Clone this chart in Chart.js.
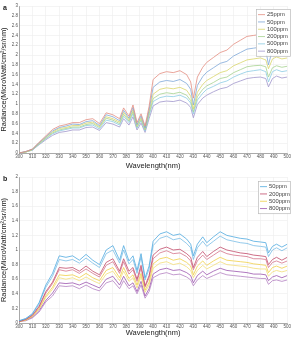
<!DOCTYPE html>
<html>
<head>
<meta charset="utf-8">
<script src="https://cdn.jsdelivr.net/npm/chart.js@4.4.0/dist/chart.umd.min.js"></script>
<style>
  body { margin: 0; background: #fff; width: 292px; height: 337px; position: relative; overflow: hidden; font-family: "Liberation Sans", Arial, sans-serif; }
  .panel { position: absolute; left: 0; width: 292px; }
  .tag { position: absolute; left: 3px; font-size: 7px; font-weight: bold; color: #222; }
</style>
</head>
<body>
<div class="panel" style="top:0;height:170px"><canvas id="chartA"></canvas></div>
<div class="panel" style="top:170px;height:167px"><canvas id="chartB"></canvas></div>
<div class="tag" style="top:4px">a</div>
<div class="tag" style="top:175px">b</div>
<script>
// ********
// * Data *
// ********

const wavelengths = [300, 305, 310, 315, 320, 325, 330, 335, 340, 345,
    350, 355, 360, 365, 370, 375, 378, 382, 385, 388,
    391, 394, 397, 400, 405, 410, 415, 420, 425, 428,
    430, 433, 437, 440, 445, 450, 455, 460, 465, 470,
    475, 480, 484, 486, 489, 492, 496, 500];

// panel a
const labelsA = ['25ppm', '50ppm', '100ppm', '200ppm', '500ppm', '800ppm'];
const a25 = [0.00, 0.03, 0.08, 0.22, 0.35, 0.48, 0.55, 0.58, 0.62, 0.62,
    0.68, 0.70, 0.60, 0.82, 0.78, 0.70, 0.92, 0.75, 0.98, 0.62,
    0.80, 0.55, 0.95, 1.50, 1.62, 1.66, 1.64, 1.68, 1.60, 1.45,
    1.12, 1.55, 1.75, 1.85, 1.95, 2.05, 2.10, 2.22, 2.30, 2.38,
    2.40, 2.42, 2.38, 2.15, 2.40, 2.45, 2.40, 2.42];
const a50 = [0.00, 0.03, 0.08, 0.21, 0.33, 0.45, 0.52, 0.55, 0.59, 0.58,
    0.64, 0.66, 0.56, 0.78, 0.74, 0.66, 0.87, 0.71, 0.93, 0.58,
    0.76, 0.51, 0.88, 1.34, 1.45, 1.48, 1.46, 1.50, 1.42, 1.30,
    0.98, 1.38, 1.56, 1.65, 1.74, 1.83, 1.87, 1.98, 2.05, 2.12,
    2.14, 2.16, 2.10, 1.80, 2.12, 2.18, 2.13, 2.16];
const a100 = [0.00, 0.02, 0.07, 0.20, 0.32, 0.43, 0.50, 0.52, 0.56, 0.56,
    0.61, 0.63, 0.54, 0.74, 0.70, 0.63, 0.83, 0.68, 0.88, 0.56,
    0.72, 0.50, 0.84, 1.20, 1.30, 1.33, 1.31, 1.34, 1.28, 1.16,
    0.90, 1.24, 1.40, 1.48, 1.56, 1.64, 1.68, 1.78, 1.84, 1.90,
    1.92, 1.94, 1.90, 1.72, 1.92, 1.96, 1.92, 1.94];
const a200 = [0.00, 0.02, 0.07, 0.19, 0.30, 0.41, 0.47, 0.50, 0.53, 0.53,
    0.58, 0.60, 0.52, 0.71, 0.67, 0.60, 0.79, 0.65, 0.84, 0.53,
    0.69, 0.47, 0.80, 1.11, 1.20, 1.23, 1.21, 1.24, 1.18, 1.07,
    0.84, 1.15, 1.30, 1.37, 1.44, 1.52, 1.55, 1.64, 1.70, 1.76,
    1.78, 1.79, 1.76, 1.55, 1.74, 1.78, 1.75, 1.77];
const a500 = [0.00, 0.02, 0.06, 0.18, 0.29, 0.39, 0.45, 0.48, 0.51, 0.51,
    0.56, 0.57, 0.49, 0.67, 0.64, 0.57, 0.75, 0.62, 0.80, 0.51,
    0.66, 0.45, 0.76, 1.05, 1.13, 1.16, 1.15, 1.18, 1.12, 1.02,
    0.80, 1.08, 1.22, 1.30, 1.36, 1.43, 1.47, 1.55, 1.61, 1.66,
    1.68, 1.70, 1.66, 1.45, 1.66, 1.70, 1.66, 1.68];
const a800 = [0.00, 0.02, 0.06, 0.17, 0.27, 0.36, 0.42, 0.44, 0.47, 0.47,
    0.52, 0.53, 0.46, 0.62, 0.59, 0.53, 0.70, 0.57, 0.74, 0.47,
    0.61, 0.42, 0.70, 0.96, 1.04, 1.06, 1.05, 1.08, 1.02, 0.93,
    0.72, 0.99, 1.12, 1.18, 1.25, 1.31, 1.34, 1.42, 1.47, 1.52,
    1.54, 1.55, 1.52, 1.35, 1.52, 1.57, 1.53, 1.55];

// panel b (two runs per concentration)
const labelsB = ['50ppm', '200ppm', '500ppm', '800ppm'];
const b50 = [0.03, 0.06, 0.13, 0.28, 0.52, 0.68, 0.92, 0.90, 0.92, 0.86,
    0.94, 0.86, 0.80, 1.00, 1.06, 0.86, 1.06, 0.85, 0.92, 0.72,
    0.95, 0.62, 0.78, 1.12, 1.22, 1.25, 1.20, 1.22, 1.15, 1.08,
    0.92, 1.08, 1.18, 1.10, 1.18, 1.25, 1.20, 1.18, 1.16, 1.15,
    1.12, 1.11, 1.10, 0.96, 1.05, 1.08, 1.04, 1.08];
const b50b = [0.03, 0.06, 0.12, 0.26, 0.49, 0.64, 0.87, 0.85, 0.87, 0.82,
    0.89, 0.82, 0.76, 0.95, 1.00, 0.82, 1.00, 0.81, 0.87, 0.68,
    0.90, 0.59, 0.74, 1.06, 1.16, 1.19, 1.14, 1.16, 1.09, 1.03,
    0.87, 1.03, 1.12, 1.05, 1.12, 1.19, 1.14, 1.12, 1.10, 1.09,
    1.06, 1.05, 1.04, 0.91, 1.00, 1.03, 0.99, 1.03];
const b200 = [0.02, 0.05, 0.11, 0.23, 0.43, 0.56, 0.76, 0.75, 0.76, 0.71,
    0.78, 0.71, 0.66, 0.83, 0.88, 0.71, 0.88, 0.71, 0.76, 0.60,
    0.79, 0.51, 0.65, 0.93, 1.01, 1.04, 1.00, 1.01, 0.95, 0.90,
    0.76, 0.90, 0.98, 0.91, 0.98, 1.04, 1.00, 0.98, 0.96, 0.95,
    0.93, 0.92, 0.91, 0.80, 0.87, 0.90, 0.86, 0.90];
const b200b = [0.02, 0.05, 0.10, 0.22, 0.41, 0.54, 0.73, 0.71, 0.73, 0.68,
    0.74, 0.68, 0.63, 0.79, 0.84, 0.68, 0.84, 0.67, 0.73, 0.57,
    0.75, 0.49, 0.62, 0.88, 0.96, 0.99, 0.95, 0.96, 0.91, 0.85,
    0.73, 0.85, 0.93, 0.87, 0.93, 0.99, 0.95, 0.93, 0.92, 0.91,
    0.88, 0.88, 0.87, 0.76, 0.83, 0.85, 0.82, 0.85];
const b500 = [0.02, 0.04, 0.09, 0.20, 0.37, 0.49, 0.66, 0.65, 0.66, 0.62,
    0.68, 0.62, 0.58, 0.72, 0.76, 0.62, 0.76, 0.61, 0.66, 0.52,
    0.68, 0.45, 0.56, 0.81, 0.88, 0.90, 0.86, 0.88, 0.83, 0.78,
    0.66, 0.78, 0.85, 0.79, 0.85, 0.90, 0.86, 0.85, 0.84, 0.83,
    0.81, 0.80, 0.79, 0.69, 0.76, 0.78, 0.75, 0.78];
const b500b = [0.02, 0.04, 0.09, 0.19, 0.35, 0.46, 0.62, 0.60, 0.62, 0.58,
    0.63, 0.58, 0.54, 0.67, 0.71, 0.58, 0.71, 0.57, 0.62, 0.48,
    0.64, 0.42, 0.52, 0.75, 0.82, 0.84, 0.80, 0.82, 0.77, 0.72,
    0.62, 0.72, 0.79, 0.74, 0.79, 0.84, 0.80, 0.79, 0.78, 0.77,
    0.75, 0.74, 0.74, 0.64, 0.70, 0.72, 0.70, 0.72];
const b800 = [0.02, 0.04, 0.08, 0.17, 0.31, 0.41, 0.55, 0.54, 0.55, 0.52,
    0.56, 0.52, 0.48, 0.60, 0.64, 0.52, 0.64, 0.51, 0.55, 0.43,
    0.57, 0.37, 0.47, 0.67, 0.73, 0.75, 0.72, 0.73, 0.69, 0.65,
    0.55, 0.65, 0.71, 0.66, 0.71, 0.75, 0.72, 0.71, 0.70, 0.69,
    0.67, 0.67, 0.66, 0.58, 0.63, 0.65, 0.62, 0.65];
const b800b = [0.02, 0.03, 0.07, 0.15, 0.29, 0.37, 0.51, 0.50, 0.51, 0.47,
    0.52, 0.47, 0.44, 0.55, 0.58, 0.47, 0.58, 0.47, 0.51, 0.40,
    0.52, 0.34, 0.43, 0.62, 0.67, 0.69, 0.66, 0.67, 0.63, 0.59,
    0.51, 0.59, 0.65, 0.61, 0.65, 0.69, 0.66, 0.65, 0.64, 0.63,
    0.62, 0.61, 0.61, 0.53, 0.58, 0.59, 0.57, 0.59];

// **********
// * Charts *
// **********

Chart.defaults.font.family = '"Liberation Sans", Arial, sans-serif';
Chart.defaults.animation = false;

function line(label, values, color, width) {
    return {
        label: label,
        data: values.map((v, i) => ({ x: wavelengths[i], y: v })),
        borderColor: color,
        backgroundColor: color,
        borderWidth: width,
        pointRadius: 0,
        tension: 0
    };
}

// legend box drawn inside the plot, top right
const boxLegend = {
    id: 'boxLegend',
    afterDraw(chart, args, opts) {
        const ctx = chart.ctx;
        const items = chart.data.datasets.filter(d => d.label);
        const x = opts.x, y = opts.y, w = opts.w, rowH = opts.rowH;
        const h = items.length * rowH + 3;
        ctx.save();
        ctx.fillStyle = '#fff';
        ctx.fillRect(x, y, w, h);
        ctx.strokeStyle = '#bbb';
        ctx.lineWidth = 0.7;
        ctx.strokeRect(x + 0.5, y + 0.5, w, h);
        ctx.font = '5.8px "Liberation Sans", Arial, sans-serif';
        ctx.textBaseline = 'middle';
        items.forEach((d, i) => {
            const cy = y + 2 + rowH * (i + 0.5);
            ctx.strokeStyle = d.borderColor;
            ctx.lineWidth = 0.8;
            ctx.beginPath();
            ctx.moveTo(x + 2, cy);
            ctx.lineTo(x + 9, cy);
            ctx.stroke();
            ctx.fillStyle = '#444';
            ctx.fillText(d.label, x + 11, cy);
        });
        ctx.restore();
    }
};

function scales(yMax, xHeight) {
    return {
        x: {
            type: 'linear',
            min: 300,
            max: 500,
            title: { display: true, text: 'Wavelength(nm)', color: '#222', font: { size: 7.5 }, padding: 0 },
            ticks: { stepSize: 10, color: '#555', font: { size: 4.5 }, padding: 1, maxRotation: 0, autoSkip: false },
            grid: { color: '#ececec', lineWidth: 0.6, tickLength: 2, drawTicks: false },
            border: { color: '#777', width: 0.6 },
            afterFit(scale) { scale.height = xHeight; }
        },
        y: {
            min: 0,
            max: yMax,
            title: { display: true, text: 'Radiance(MicroWatt/cm²/sr/nm)', color: '#222', font: { size: 7.4 }, padding: 0 },
            ticks: {
                stepSize: 0.2,
                color: '#555',
                font: { size: 4.5 },
                padding: 1,
                autoSkip: false,
                callback: v => Math.round(v * 10) / 10
            },
            grid: { color: '#ececec', lineWidth: 0.6, drawTicks: false },
            border: { color: '#777', width: 0.6 },
            afterFit(scale) { scale.width = 19; }
        }
    };
}

const chartA = new Chart(document.getElementById('chartA'), {
    type: 'line',
    data: {
        datasets: [
            line(labelsA[0], a25, '#e38d80', 0.8),
            line(labelsA[1], a50, '#7ea7d8', 0.8),
            line(labelsA[2], a100, '#d9d66a', 0.8),
            line(labelsA[3], a200, '#a6d28f', 0.8),
            line(labelsA[4], a500, '#8ccbe3', 0.8),
            line(labelsA[5], a800, '#9f95cc', 0.8)
        ]
    },
    options: {
        responsive: true,
        maintainAspectRatio: false,
        layout: { padding: { top: 6, right: 3, left: 0, bottom: 0 } },
        scales: scales(3, 17),
        plugins: {
            legend: { display: false },
            tooltip: { enabled: false },
            boxLegend: { x: 256, y: 9, w: 34, rowH: 7.3 }
        }
    },
    plugins: [boxLegend]
});

const chartB = new Chart(document.getElementById('chartB'), {
    type: 'line',
    data: {
        datasets: [
            line(labelsB[0], b50, '#4fa9e0', 0.8),
            line('', b50b, '#78bde6', 0.8),
            line(labelsB[1], b200, '#c24a6a', 0.8),
            line('', b200b, '#d4738a', 0.8),
            line(labelsB[2], b500, '#f0cf48', 0.8),
            line('', b500b, '#f3dd78', 0.8),
            line(labelsB[3], b800, '#9c55ae', 0.8),
            line('', b800b, '#b482c2', 0.8)
        ]
    },
    options: {
        responsive: true,
        maintainAspectRatio: false,
        layout: { padding: { top: 7, right: 3, left: 0, bottom: 0 } },
        scales: scales(2, 14),
        plugins: {
            legend: { display: false },
            tooltip: { enabled: false },
            boxLegend: { x: 258, y: 11, w: 32, rowH: 7.3 }
        }
    },
    plugins: [boxLegend]
});
</script>
</body>
</html>
